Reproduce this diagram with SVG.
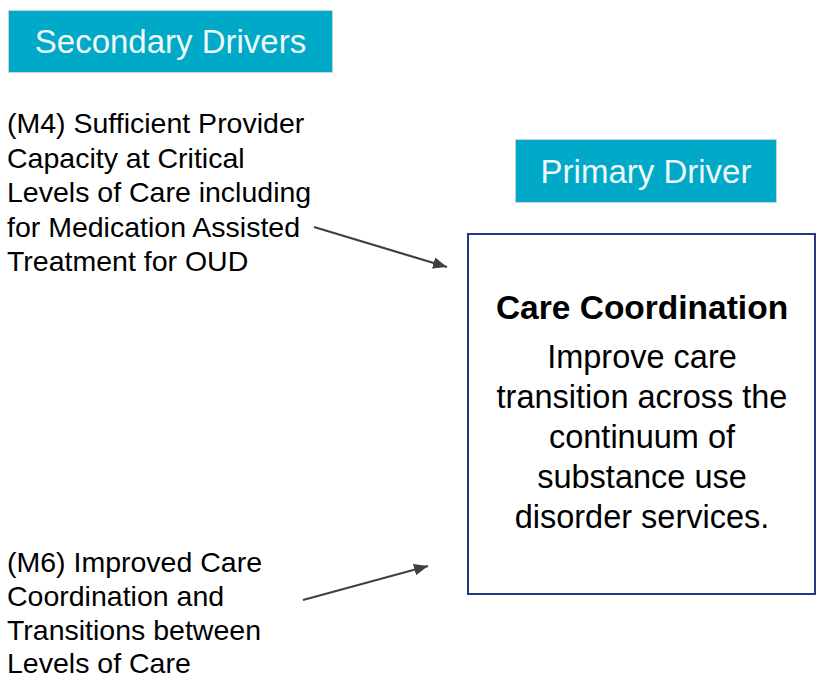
<svg xmlns="http://www.w3.org/2000/svg" width="817" height="678" viewBox="0 0 817 678">
<defs>
<style>
.hdr{fill:#00A9C7;stroke:#C9D3D6;stroke-width:1}
.hdrt{font-family:"Liberation Sans",Arial,sans-serif;font-size:33px;fill:#EEF8FA;text-anchor:middle}
.lt{font-family:"Liberation Sans",Arial,sans-serif;font-size:28.5px;fill:#000}
.bt{font-family:"Liberation Sans",Arial,sans-serif;font-size:32.5px;fill:#000;text-anchor:middle}
.btb{font-weight:bold;font-size:33.5px}
.edge{stroke:#404040;stroke-width:2.2;fill:none}
</style>
<marker id="arr" viewBox="0 0 12 10" refX="12" refY="5" markerWidth="14" markerHeight="12" markerUnits="userSpaceOnUse" orient="auto">
<path d="M0,0 L12,5 L0,10 z" fill="#404040"/>
</marker>
</defs>
<rect width="817" height="678" fill="#fff"/>
<g id="secondary-header">
<rect class="hdr" x="8.5" y="10.5" width="324" height="62"/>
<text class="hdrt" x="170.5" y="53">Secondary Drivers</text>
</g>
<g id="primary-header">
<rect class="hdr" x="515.5" y="139.5" width="261" height="63"/>
<text class="hdrt" x="646" y="183">Primary Driver</text>
</g>
<g id="m4">
<text class="lt" x="7" y="133">(M4) Sufficient Provider</text>
<text class="lt" x="7" y="167.5">Capacity at Critical</text>
<text class="lt" x="7" y="202">Levels of Care including</text>
<text class="lt" x="7" y="236.5">for Medication Assisted</text>
<text class="lt" x="7" y="271">Treatment for OUD</text>
</g>
<g id="m6">
<text class="lt" x="7" y="572">(M6) Improved Care</text>
<text class="lt" x="7" y="606">Coordination and</text>
<text class="lt" x="7" y="640">Transitions between</text>
<text class="lt" x="7" y="673">Levels of Care</text>
</g>
<g id="care-coordination">
<rect x="468" y="234" width="347" height="360" fill="#fff" stroke="#1E3A8C" stroke-width="2"/>
<text class="bt btb" x="642" y="319">Care Coordination</text>
<text class="bt" x="642" y="368">Improve care</text>
<text class="bt" x="642" y="408">transition across the</text>
<text class="bt" x="642" y="448">continuum of</text>
<text class="bt" x="642" y="488">substance use</text>
<text class="bt" x="642" y="528">disorder services.</text>
</g>
<g id="connectors">
<line class="edge" x1="314" y1="227" x2="447" y2="267" marker-end="url(#arr)"/>
<line class="edge" x1="303" y1="600" x2="428" y2="566" marker-end="url(#arr)"/>
</g>
</svg>
